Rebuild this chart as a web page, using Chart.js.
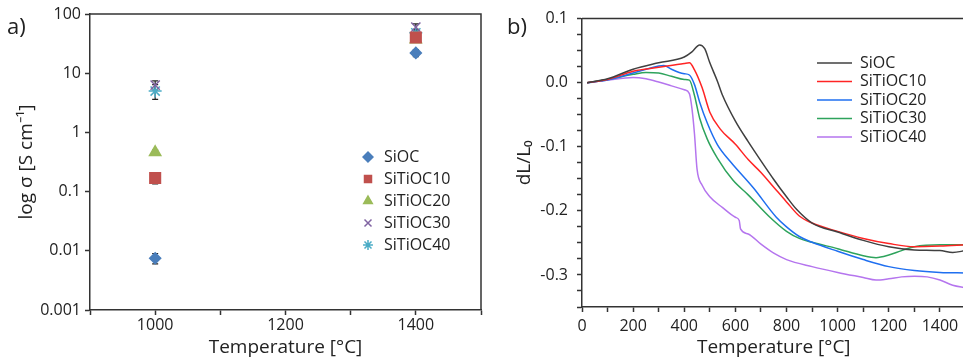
<!DOCTYPE html>
<html>
<head>
<meta charset="utf-8">
<script src="https://cdn.jsdelivr.net/npm/chart.js@4.4.1/dist/chart.umd.min.js"></script>
<style>
  html, body { margin: 0; padding: 0; background: #fff; overflow: hidden; }
  body { width: 963px; height: 359px; position: relative; }
  .panel { position: absolute; top: 0; }
  .tag { position: absolute; font-family: 'Open Sans', sans-serif; font-size: 22px; line-height: 22px; color: #222; }
</style>
</head>
<body>
<div class="panel" style="left:0"><canvas id="chartA" width="490" height="359"></canvas></div>
<div class="panel" style="left:490px"><canvas id="chartB" width="490" height="359"></canvas></div>
<div class="tag" style="left:7px; top:14px">a)</div>
<div class="tag" style="left:507px; top:14px">b)</div>
<script>
// --- a) conductivity vs temperature ---
var tempsA = [1000, 1400];
var sigmaSiOC = [0.0075, 22];
var sigmaSiTiOC10 = [0.17, 40];
var sigmaSiTiOC20 = [0.46, 37];
var sigmaSiTiOC30 = [6.3, 60];
var sigmaSiTiOC40 = [5.0, 48];
// +/- error (same units)
var errSiOC = [0.0015, 3];
var errSiTiOC10 = [0.035, 5];
var errSiTiOC20 = [0.04, 4];
var errSiTiOC30 = [1.1, 8];
var errSiTiOC40 = [1.4, 7];
var decadeTicks = [0.001, 0.01, 0.1, 1, 10, 100];

// --- b) dilatometry dL/L0 ---
var tempsSiOC = [20, 100, 200, 300, 400, 430, 460, 480, 500, 530, 550, 600, 650, 700, 750, 800, 840, 900, 1000, 1100, 1200, 1300, 1400, 1450, 1500];
var dlSiOC = [0, 0.006, 0.021, 0.031, 0.040, 0.048, 0.059, 0.053, 0.031, 0.002, -0.020, -0.060, -0.092, -0.122, -0.151, -0.178, -0.198, -0.219, -0.233, -0.246, -0.256, -0.261, -0.262, -0.265, -0.262];
var tempsSiTiOC10 = [20, 100, 200, 300, 400, 420, 440, 470, 500, 540, 600, 650, 700, 750, 800, 850, 900, 1000, 1100, 1200, 1300, 1400, 1500];
var dlSiTiOC10 = [0, 0.005, 0.018, 0.024, 0.030, 0.031, 0.020, -0.008, -0.046, -0.072, -0.096, -0.120, -0.140, -0.163, -0.186, -0.208, -0.219, -0.232, -0.243, -0.251, -0.256, -0.255, -0.253];
var tempsSiTiOC20 = [20, 100, 200, 300, 320, 350, 380, 400, 420, 440, 460, 490, 530, 580, 670, 760, 800, 850, 900, 1000, 1100, 1200, 1300, 1400, 1500];
var dlSiTiOC20 = [0, 0.004, 0.015, 0.026, 0.027, 0.021, 0.016, 0.014, 0.012, -0.003, -0.030, -0.063, -0.097, -0.123, -0.164, -0.210, -0.225, -0.240, -0.249, -0.263, -0.276, -0.287, -0.293, -0.296, -0.297];
var tempsSiTiOC30 = [20, 100, 200, 250, 300, 350, 400, 420, 440, 460, 490, 530, 590, 650, 735, 800, 850, 900, 1000, 1100, 1150, 1200, 1250, 1300, 1400, 1500];
var dlSiTiOC30 = [0, 0.005, 0.013, 0.016, 0.015, 0.010, 0.005, 0.004, -0.020, -0.055, -0.088, -0.118, -0.152, -0.175, -0.210, -0.232, -0.243, -0.249, -0.259, -0.270, -0.273, -0.269, -0.262, -0.256, -0.253, -0.253];
var tempsSiTiOC40 = [20, 100, 200, 250, 300, 350, 400, 420, 430, 440, 450, 470, 500, 550, 600, 615, 620, 650, 700, 750, 800, 900, 1000, 1100, 1150, 1200, 1250, 1300, 1350, 1400, 1450, 1500];
var dlSiTiOC40 = [0, 0.004, 0.008, 0.006, 0.001, -0.005, -0.011, -0.017, -0.040, -0.080, -0.135, -0.160, -0.178, -0.195, -0.210, -0.215, -0.228, -0.236, -0.252, -0.266, -0.276, -0.287, -0.296, -0.304, -0.308, -0.306, -0.303, -0.302, -0.303, -0.308, -0.316, -0.320];

Chart.defaults.font.family = "'Open Sans', sans-serif";
Chart.defaults.color = '#222';

function points(xs, ys) {
  return xs.map(function (x, i) { return { x: x, y: ys[i] }; });
}

// top and right frame of the plot
var boxPlugin = {
  id: 'box',
  afterDraw: function (chart) {
    var a = chart.chartArea, ctx = chart.ctx;
    ctx.save();
    ctx.strokeStyle = '#333';
    ctx.lineWidth = 1.5;
    ctx.beginPath();
    ctx.moveTo(a.left, a.top);
    ctx.lineTo(a.right, a.top);
    ctx.lineTo(a.right, a.bottom);
    ctx.stroke();
    ctx.restore();
  }
};

var errorBarPlugin = {
  id: 'errorBars',
  beforeDatasetsDraw: function (chart) {
    var ctx = chart.ctx, xs = chart.scales.x, ys = chart.scales.y;
    ctx.save();
    ctx.strokeStyle = '#222';
    ctx.lineWidth = 1.2;
    chart.data.datasets.forEach(function (ds) {
      ds.data.forEach(function (p, i) {
        var e = ds.errors[i];
        var px = xs.getPixelForValue(p.x);
        var top = ys.getPixelForValue(p.y + e);
        var bot = ys.getPixelForValue(p.y - e);
        ctx.beginPath();
        ctx.moveTo(px, top); ctx.lineTo(px, bot);
        ctx.moveTo(px - 3, top); ctx.lineTo(px + 3, top);
        ctx.moveTo(px - 3, bot); ctx.lineTo(px + 3, bot);
        ctx.stroke();
      });
    });
    ctx.restore();
  }
};

// put the legend box at a fixed spot inside the plot
function legendAt(left, top) {
  return {
    id: 'legendAt',
    afterLayout: function (chart) {
      var lg = chart.legend;
      var w = lg.width, h = lg.height;
      lg.left = left; lg.top = top;
      lg.right = left + w; lg.bottom = top + h;
    }
  };
}

function scatterSet(label, ys, errs, style, color, r) {
  return {
    label: label,
    data: points(tempsA, ys),
    errors: errs,
    pointStyle: style,
    pointRadius: r,
    backgroundColor: color,
    borderColor: color,
    borderWidth: 1.5
  };
}

new Chart(document.getElementById('chartA'), {
  type: 'scatter',
  data: {
    datasets: [
      scatterSet('SiOC', sigmaSiOC, errSiOC, 'rectRot', '#4a7ebb', 5.5),
      scatterSet('SiTiOC10', sigmaSiTiOC10, errSiTiOC10, 'rect', '#c0504d', 7.5),
      scatterSet('SiTiOC20', sigmaSiTiOC20, errSiTiOC20, 'triangle', '#9bbb59', 6.5),
      scatterSet('SiTiOC30', sigmaSiTiOC30, errSiTiOC30, 'crossRot', '#8064a2', 6.5),
      scatterSet('SiTiOC40', sigmaSiTiOC40, errSiTiOC40, 'star', '#4bacc6', 6.5)
    ]
  },
  options: {
    responsive: false,
    animation: false,
    layout: { padding: { top: 14, right: 7, left: 0, bottom: 0 } },
    plugins: {
      legend: {
        position: 'chartArea',
        align: 'start',
        labels: { usePointStyle: true, boxWidth: 16, boxHeight: 7, padding: 6, color: '#222', font: { size: 16 } }
      },
      tooltip: { enabled: false }
    },
    scales: {
      x: {
        type: 'linear',
        min: 900,
        max: 1500,
        afterFit: function (s) { s.height = 49; },
        ticks: {
          stepSize: 100, autoSkip: false, maxRotation: 0, padding: 1, color: '#222', font: { size: 16 },
          callback: function (v) { return v % 200 === 0 ? String(v) : ''; }
        },
        grid: { drawOnChartArea: false, tickLength: 5, tickColor: '#333', tickWidth: 1.5 },
        border: { color: '#333', width: 1.5 },
        title: { display: true, text: 'Temperature [°C]', color: '#222', font: { size: 19 }, padding: 0 }
      },
      y: {
        type: 'logarithmic',
        min: 0.001,
        max: 100,
        afterFit: function (s) { s.width = 90; },
        afterBuildTicks: function (s) { s.ticks = decadeTicks.map(function (v) { return { value: v }; }); },
        ticks: {
          autoSkip: false, padding: 4, color: '#222', font: { size: 16 },
          callback: function (v) { return String(v); }
        },
        grid: { drawOnChartArea: false, tickLength: 5, tickColor: '#333', tickWidth: 1.5 },
        border: { color: '#333', width: 1.5 },
        title: { display: true, text: 'log σ [S cm⁻¹]', color: '#222', font: { size: 19 }, padding: { top: 15, bottom: 0 } }
      }
    }
  },
  plugins: [boxPlugin, errorBarPlugin, legendAt(354, 143)]
});

function lineSet(label, xs, ys, color) {
  return {
    label: label,
    data: points(xs, ys),
    borderColor: color,
    backgroundColor: color,
    borderWidth: 1.5,
    pointRadius: 0,
    fill: false,
    cubicInterpolationMode: 'monotone'
  };
}

new Chart(document.getElementById('chartB'), {
  type: 'line',
  data: {
    datasets: [
      lineSet('SiOC', tempsSiOC, dlSiOC, '#404040'),
      lineSet('SiTiOC10', tempsSiTiOC10, dlSiTiOC10, '#ff2424'),
      lineSet('SiTiOC20', tempsSiTiOC20, dlSiTiOC20, '#1f6ff0'),
      lineSet('SiTiOC30', tempsSiTiOC30, dlSiTiOC30, '#2ea35c'),
      lineSet('SiTiOC40', tempsSiTiOC40, dlSiTiOC40, '#b575ee')
    ]
  },
  options: {
    responsive: false,
    animation: false,
    layout: { padding: { top: 15, right: 14.5, left: 0, bottom: 0 } },
    plugins: {
      legend: {
        position: 'chartArea',
        align: 'start',
        labels: { usePointStyle: true, pointStyle: 'line', pointStyleWidth: 35, padding: 2.5, color: '#222', font: { size: 16 } }
      },
      tooltip: { enabled: false }
    },
    scales: {
      x: {
        type: 'linear',
        min: 0,
        max: 1500,
        afterFit: function (s) { s.height = 52; },
        ticks: {
          stepSize: 100, autoSkip: false, maxRotation: 0, padding: 5, color: '#222', font: { size: 16 },
          callback: function (v) { return v % 200 === 0 ? String(v) : ''; }
        },
        grid: { drawOnChartArea: false, tickLength: 5, tickColor: '#333', tickWidth: 1.5 },
        border: { color: '#333', width: 1.5 },
        title: { display: true, text: 'Temperature [°C]', color: '#222', font: { size: 19 }, padding: 0 }
      },
      y: {
        min: -0.35,
        max: 0.1,
        afterFit: function (s) { s.width = 92; },
        ticks: {
          stepSize: 0.025, autoSkip: false, padding: 9, color: '#222', font: { size: 16 },
          callback: function (v) {
            var k = Math.round(v * 40);
            return k % 4 === 0 ? (k / 40).toFixed(1) : '';
          }
        },
        grid: { drawOnChartArea: false, tickLength: 5, tickColor: '#333', tickWidth: 1.5 },
        border: { color: '#333', width: 1.5 },
        title: { display: true, text: 'dL/L₀', color: '#222', font: { size: 19 }, padding: { top: 23, bottom: 0 } }
      }
    }
  },
  plugins: [boxPlugin, legendAt(324.5, 52.5)]
});
</script>
</body>
</html>
